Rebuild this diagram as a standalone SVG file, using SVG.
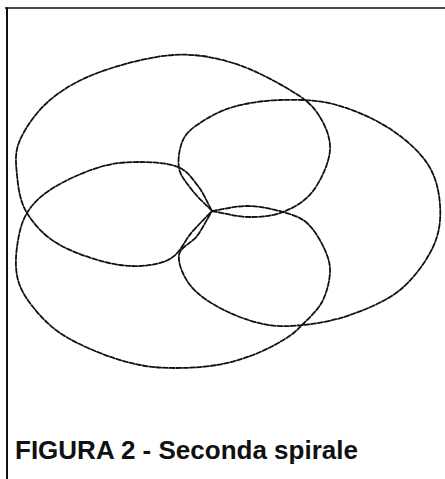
<svg xmlns="http://www.w3.org/2000/svg" width="445" height="479" viewBox="0 0 445 479">
  <style>
    .frame { stroke: #111; fill: none; }
    .loop { fill: none; stroke: #111; stroke-width: 1.8; stroke-dasharray: 5 1.8; stroke-linecap: round; stroke-linejoin: round; }
    .caption { font-family: "Liberation Sans", Arial, Helvetica, sans-serif; font-weight: bold; font-size: 26px; fill: #111; }
  </style>
  <rect width="445" height="479" fill="#ffffff"/>
  <g id="frame">
    <line class="frame" x1="5" y1="8" x2="445" y2="8" stroke-width="1.5"/>
    <line class="frame" x1="7" y1="7.5" x2="7" y2="479" stroke-width="2"/>
  </g>
  <g id="spiral">
    <path id="loop-a" class="loop" d="M212,211 C224,213 236.2,216.8 248,217 S272.2,216.3 283,212 S305.2,201.3 313,191 S329.2,162.8 330,150 S324.7,124 318,114 S304.2,98.5 290,90 S252.5,68.8 233,63 S195.2,53.5 173,55 S120.5,64.5 100,72 S63.3,88.7 50,100 S25.5,127.5 20,140 S15.8,162.8 17,175 S19.8,201.3 27,213 S44.5,236.3 60,245 S102,262.5 120,265 S156,265.5 168,260 S184.7,240.2 192,232 S205.3,218 212,211"/>
    <path id="loop-b" class="loop" d="M212,211 C205.3,204 197.5,197.2 192,190 S180.5,176.3 179,168 S179.5,147.5 183,140 S191.7,128.5 200,123 S219.7,110.8 233,107 S263.3,100.5 280,100 S315.2,99.5 333,104 S371.3,117.2 387,127 S418.2,150 427,163 S439,191 440,205 S439.7,232.8 433,247 S413.8,278.7 400,290 S366.2,309.2 350,315 S317.5,323.5 303,325 S276.8,326.8 263,324 S232.2,314.5 220,308 S196.8,293.8 190,285 S177.8,263.2 179,255 S191.5,243.3 197,236 S207,219.3 212,211"/>
    <path id="loop-c" class="loop" d="M212,211 C224,209.3 236.2,205.8 248,206 S273.2,209.2 283,212 S300.2,217 307,223 S320.2,239.8 324,248 S330.3,263 330,272 S326.7,293.2 322,302 S308.2,318.8 302,325 S293.2,334 285,339 S264.3,350.7 253,355 S229.7,362.8 217,365 S189.8,368 177,368 S152.8,367.5 140,365 S113.3,358.3 100,353 S71.2,340.7 60,333 S40,315.8 33,307 S20.7,290 18,280 S15.5,258.2 17,247 S21,222.8 27,213 S40.8,195.7 53,188 S85.5,171.3 100,167 S127,162 140,162 S168.3,163 178,167 S192.3,178.7 198,186 S207.3,202.7 212,211"/>
  </g>
  <g id="caption">
    <text class="caption" x="15" y="459">FIGURA 2 - Seconda spirale</text>
  </g>
</svg>
